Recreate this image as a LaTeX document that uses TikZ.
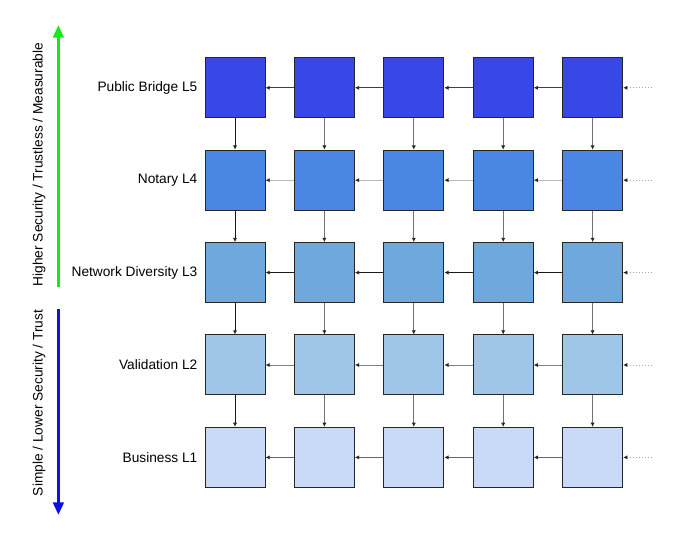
\documentclass[tikz,border=0pt]{standalone}
\usepackage{fontspec}
\setmainfont{Liberation Sans}
\usetikzlibrary{arrows.meta}

\definecolor{levelfive}{RGB}{56,72,230}
\definecolor{levelfour}{RGB}{74,134,228}
\definecolor{levelthree}{RGB}{111,168,220}
\definecolor{leveltwo}{RGB}{159,197,232}
\definecolor{levelone}{RGB}{201,218,248}
\definecolor{upgreen}{RGB}{24,232,24}
\definecolor{downblue}{RGB}{16,16,228}

\tikzset{
    block/.style={rectangle, draw=black!85, line width=0.7pt, minimum size=1.5cm, inner sep=0pt},
    link/.style={-{Latex[length=3pt,width=3pt,color=black!85]}, line width=0.6pt},
    levellabel/.style={anchor=east, inner sep=0pt, font=\fontsize{9.75}{11.7}\selectfont},
    axislabel/.style={rotate=90, font=\fontsize{9.75}{11.7}\selectfont},
    axis/.style={line width=2.1pt, -{Triangle[length=9pt,width=7.5pt]}}
}

\begin{document}
\begin{tikzpicture}
        \useasboundingbox (0,0) rectangle (16.85,13.375);

        % Nodes
        \foreach \r/\y/\shade/\name/\edge in {5/11.18/levelfive/Public Bridge L5/black!75,
                4/8.87/levelfour/Notary L4/black!28,
                3/6.56/levelthree/Network Diversity L3/black!90,
                2/4.25/leveltwo/Validation L2/black!50,
                1/1.94/levelone/Business L1/black!60} {
            \node (lbl\r) [levellabel] at (4.94, \y) {\name};
            \foreach \c in {1,...,5}
                \node (b\r\c) [block, fill=\shade] at ({5.875+2.235*(\c-1)}, \y) {};
            \coordinate (in\r) at (16.3, \y);

            % Edges along the row
            \foreach \c [evaluate=\c as \n using int(\c+1)] in {1,...,4}
                \draw[link, draw=\edge] (b\r\n) -- (b\r\c);
            \draw[link, draw=black!35, dash pattern=on 0.7pt off 1.4pt] (in\r) -- (b\r5);
        }

        % Edges down the columns
        \foreach \r [evaluate=\r as \d using int(\r-1)] in {5,4,3,2} {
            \draw[link, draw=black!90] (b\r1) -- (b\d1);
            \foreach \c in {2,...,5}
                \draw[link, draw=black!55] (b\r\c) -- (b\d\c);
        }

        % Axes
        \coordinate (upfrom) at (1.46, 6.2);
        \coordinate (upto) at (1.46, 12.75);
        \coordinate (downfrom) at (1.46, 5.65);
        \coordinate (downto) at (1.46, 0.5);
        \draw[axis, upgreen] (upfrom) -- (upto);
        \draw[axis, downblue] (downfrom) -- (downto);
        \node (uplbl) [axislabel] at (0.975, 9.26) {Higher Security / Trustless / Measurable};
        \node (downlbl) [axislabel] at (0.975, 3.3) {Simple / Lower Security / Trust};

    \end{tikzpicture}
\end{document}
